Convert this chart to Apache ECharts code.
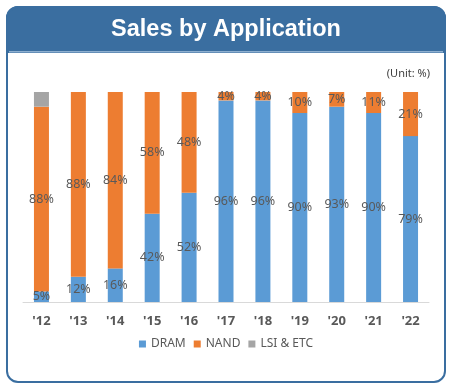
<!DOCTYPE html>
<html><head><meta charset="utf-8">
<script src="https://cdn.jsdelivr.net/npm/echarts@6/dist/echarts.min.js"></script>
<style>html,body{margin:0;padding:0;background:#fff}#c{width:452px;height:388px}</style>
</head><body><div id="c"></div>
<script>
var years = ["'12","'13","'14","'15","'16","'17","'18","'19","'20","'21","'22"];
var dram = [5,12,16,42,52,96,96,90,93,90,79];
var nand = [88,88,84,58,48,4,4,10,7,11,21];
var lsi = [7,0,0,0,0,0,0,0,0,0,0];

var chart = echarts.init(document.getElementById('c'));
var lbl = {show:true, position:'inside', color:'#595959', fontSize:12.5, fontFamily:'Noto Sans',
  formatter:function(p){return p.value>0? p.value+'%':'';}};
chart.setOption({
  animation:false,
  graphic:[
    {type:'rect', shape:{x:7,y:7,width:438,height:375,r:11}, style:{fill:'#fff',stroke:'#3A6EA0',lineWidth:2}},
    {type:'rect', shape:{x:7,y:7,width:438,height:45,r:[11,11,0,0]}, style:{fill:'#3A6EA0',stroke:'#3A6EA0',lineWidth:2}},
    {type:'rect', shape:{x:9,y:51,width:434,height:1.5}, style:{fill:'#8FB0D0'}},
    {type:'text', x:226, y:30, style:{text:'Sales by Application', fill:'#fff', font:'bold 23.5px "Liberation Sans", Arial',
      textAlign:'center', textVerticalAlign:'middle', shadowColor:'rgba(0,0,0,0.5)', shadowBlur:2, shadowOffsetX:1, shadowOffsetY:1}},
    {type:'text', x:430, y:74, style:{text:'(Unit: %)', fill:'#404040', font:'11px "Noto Sans"', textAlign:'right', textVerticalAlign:'middle'}}
  ],
  grid:{left:23, right:23, top:92, bottom:86},
  xAxis:{type:'category', data:years,
    axisLine:{lineStyle:{color:'#D9D9D9'}}, axisTick:{show:false},
    axisLabel:{color:'#595959', fontWeight:'bold', fontSize:13, fontFamily:'Noto Sans', margin:13}},
  yAxis:{type:'value', min:0, max:100, show:false, splitLine:{show:false}},
  legend:{bottom:33, left:'center', itemWidth:7, itemHeight:7, itemGap:8, icon:'rect',
    textStyle:{color:'#595959', fontSize:12, fontFamily:'Noto Sans'}, data:['DRAM','NAND','LSI & ETC']},
  series:[
    {name:'DRAM', type:'bar', stack:'s', data:dram, barWidth:15, itemStyle:{color:'#5B9BD5'}, label:lbl},
    {name:'NAND', type:'bar', stack:'s', data:nand, barWidth:15, itemStyle:{color:'#ED7D31'}, label:lbl},
    {name:'LSI & ETC', type:'bar', stack:'s', data:lsi, barWidth:15, itemStyle:{color:'#A5A5A5'}, label:{show:false}}
  ]
});
</script></body></html>
